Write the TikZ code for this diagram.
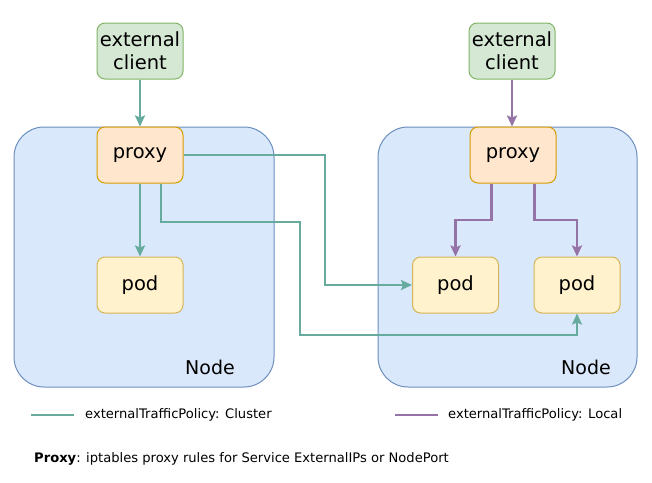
\documentclass[tikz,border=0pt]{standalone}
\usepackage{fontspec}
\setmainfont{DejaVu Sans}
\usetikzlibrary{arrows.meta}
\definecolor{clientfill}{HTML}{D5E8D4}
\definecolor{clientdraw}{HTML}{82B366}
\definecolor{proxyfill}{HTML}{FFE6CC}
\definecolor{proxydraw}{HTML}{D79B00}
\definecolor{podfill}{HTML}{FFF2CC}
\definecolor{poddraw}{HTML}{D6B656}
\definecolor{nodefill}{HTML}{DAE8FC}
\definecolor{nodedraw}{HTML}{6C8EBF}
\definecolor{garrow}{HTML}{67AB9F}
\definecolor{parrow}{HTML}{9673A6}
\begin{document}
\begin{tikzpicture}[x=1pt,y=-1pt,
  box/.style={draw, rounded corners=8pt, minimum width=86pt, minimum height=56pt, inner sep=0pt, align=center, font=\fontsize{19.5}{23}\selectfont, line width=1pt},
  clientbox/.style={box, fill=clientfill, draw=clientdraw},
  proxybox/.style={box, fill=proxyfill, draw=proxydraw},
  podbox/.style={box, fill=podfill, draw=poddraw},
  hostbox/.style={fill=nodefill, draw=nodedraw, line width=1pt, rounded corners=30pt},
  hostlabel/.style={font=\fontsize{19}{22}\selectfont, inner sep=0pt},
  gconn/.style={draw=garrow, line width=2.3pt, -{Stealth[length=11pt,width=10pt,inset=2pt]}},
  pconn/.style={draw=parrow, line width=2.3pt, -{Stealth[length=11pt,width=10pt,inset=2pt]}},
  legtext/.style={font=\fontsize{13.1}{15}\selectfont, anchor=west, inner sep=0pt},
]
\useasboundingbox (0,0) rectangle (652,482);
% hosts
\draw[hostbox] (14,127) rectangle (274,387);
\draw[hostbox] (378,127) rectangle (637,387);
\node[hostlabel] (lnodelabel) at (210,367) {Node};
\node[hostlabel] (rnodelabel) at (586,367) {Node};
% boxes
\node[clientbox] (lclient) at (140,51) {external\\client};
\node[proxybox] (lproxy) at (140,155) {proxy};
\node[podbox] (lpod) at (140,285) {pod};
\node[clientbox] (rclient) at (512,51) {external\\client};
\node[proxybox] (rproxy) at (513,155) {proxy};
\node[podbox] (rpod1) at (455.5,285) {pod};
\node[podbox] (rpod2) at (577,285) {pod};
% green connectors
\coordinate (gx1) at (325,0);
\coordinate (gx2) at (300,0);
\draw[gconn] (lclient) -- (lproxy);
\draw[gconn] (lproxy) -- (lpod);
\draw[gconn] (lproxy.east) -| (gx1 |- rpod1.west) -- (rpod1.west);
\draw[gconn] ([xshift=21pt]lproxy.south) |- (gx2 |- 0,222) -- (gx2 |- 0,335) -| (rpod2.south);
% purple connectors
\draw[pconn] (rclient.south) -- (rclient.south |- rproxy.north);
\draw[pconn] ([xshift=-21.5pt]rproxy.south) |- (rpod1.north |- 0,220) -- (rpod1.north);
\draw[pconn] ([xshift=21.5pt]rproxy.south) |- (rpod2.north |- 0,220) -- (rpod2.north);
% legend
\coordinate (lg1a) at (31,415);
\coordinate (lg1b) at (74,415);
\coordinate (lg2a) at (395,415);
\coordinate (lg2b) at (438,415);
\draw[draw=garrow, line width=2.3pt] (lg1a) -- (lg1b);
\draw[draw=parrow, line width=2.3pt] (lg2a) -- (lg2b);
\node[legtext] (leg1) at (85,415) {externalTrafficPolicy: Cluster};
\node[legtext] (leg2) at (448,415) {externalTrafficPolicy: Local};
\node[legtext] (note) at (34,459) {\textbf{Proxy}: iptables proxy rules for Service ExternalIPs or NodePort};
\end{tikzpicture}
\end{document}
